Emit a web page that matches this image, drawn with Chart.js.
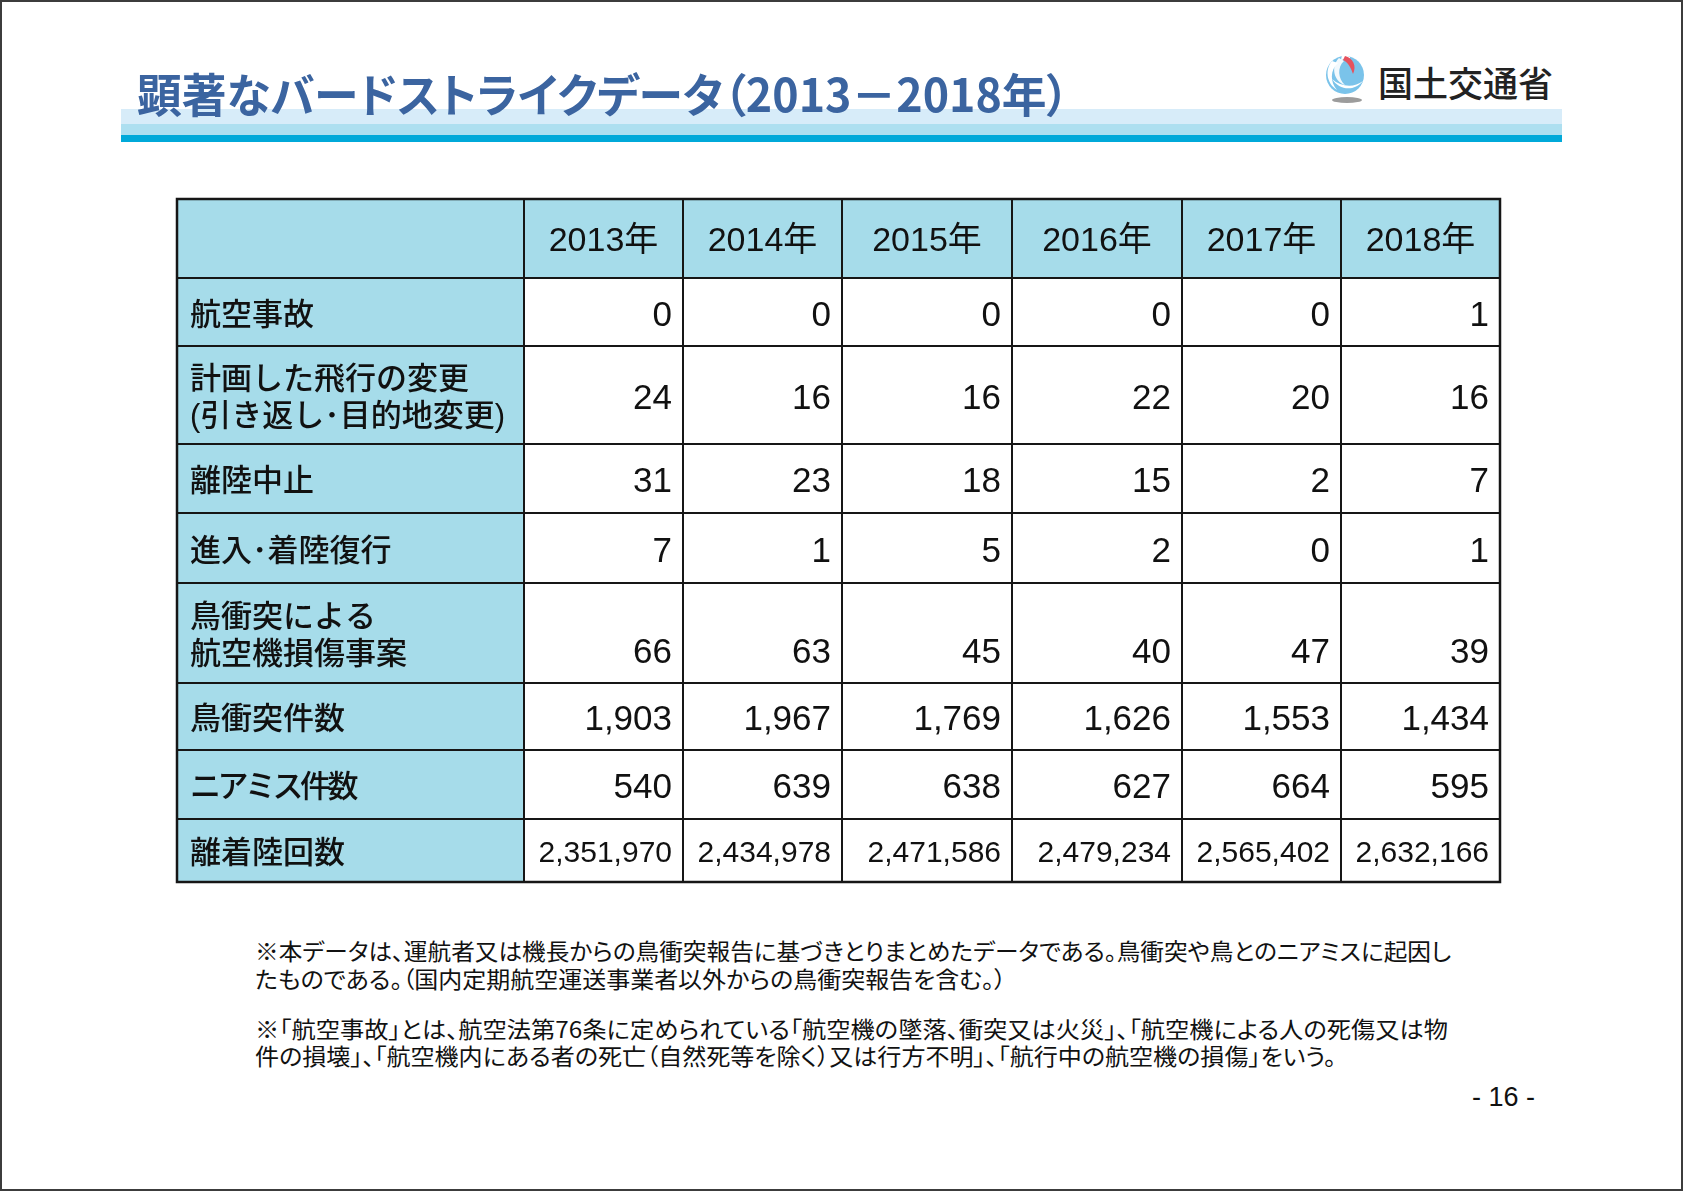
<!DOCTYPE html>
<html lang="ja">
<head>
<meta charset="utf-8">
<script src="https://cdn.jsdelivr.net/npm/chart.js@4.4.1/dist/chart.umd.min.js"></script>
<style>
html,body{margin:0;padding:0;background:#fff;}
#page{position:relative;width:1683px;height:1191px;overflow:hidden;background:#fff;}
#frame{position:absolute;left:0;top:0;width:1683px;height:1191px;box-sizing:border-box;border:2px solid #3c3c3c;z-index:10;pointer-events:none;}
.band{position:absolute;left:121px;width:1441px;}
#b1{top:109px;height:15px;background:#d7ecf9;}
#b2{top:124px;height:11px;background:#addff0;}
#b3{top:135px;height:7px;background:#00a9d9;}
#title{position:absolute;left:137px;top:64px;font-family:"Noto Sans CJK JP";font-weight:700;font-size:46px;line-height:56px;color:#3b64a0;white-space:nowrap;transform-origin:0 0;z-index:3;font-feature-settings:"palt" 1;}
#logoText{position:absolute;left:1378px;top:60px;font-family:"Noto Sans CJK JP";font-weight:500;font-size:35px;line-height:44px;color:#222;white-space:nowrap;}
#logo{position:absolute;left:1320px;top:52px;}
.note{position:absolute;left:255px;font-family:"Noto Sans CJK JP";font-size:23px;line-height:30px;color:#111;white-space:nowrap;transform-origin:0 0;font-feature-settings:"palt" 1;}
#pnum{position:absolute;left:1472px;top:1082px;font-family:"Liberation Sans Narrow","Liberation Sans";font-size:27px;line-height:30px;color:#111;white-space:pre;}
#c{position:absolute;left:0;top:0;z-index:2;}
</style>
</head>
<body>
<div id="page">
  <div class="band" id="b1"></div>
  <div class="band" id="b2"></div>
  <div class="band" id="b3"></div>
  <div id="title" data-w="932">顕著なバードストライクデータ（2013－2018年）</div>
  <svg id="logo" width="60" height="60" viewBox="0 0 60 60">
    <ellipse cx="27" cy="48" rx="15" ry="3" fill="#9c9c9c"/>
    <circle cx="25" cy="23" r="19" fill="#7ac3ea"/>
    <path d="M12,9 C5,17 6,31 17,38 C10,30 10,18 18,11 Z" fill="#fff"/>
    <path d="M19,6 C11,14 13,29 25,33 C18,27 17,15 24,9 Z" fill="#fff" opacity="0.9"/>
    <path d="M12,27 C19,38 34,40 43,29 C34,36 21,35 12,27 Z" fill="#fff"/>
    <path d="M22,3 C25,3 28,4 30,5 L30,8 C27,7 24,7 21,8 Z" fill="#fff"/>
    <path d="M25,4 C33,6 37,14 33,22 C31,16 28,10 23,8 Z" fill="#e5525e"/>
  </svg>
  <div id="logoText">国土交通省</div>
  <canvas id="c" width="1683" height="1191"></canvas>
  <div class="note" style="top:935px" data-w="1196">※本データは、運航者又は機長からの鳥衝突報告に基づきとりまとめたデータである。鳥衝突や鳥とのニアミスに起因し</div>
  <div class="note" style="top:963px" data-w="751">たものである。（国内定期航空運送事業者以外からの鳥衝突報告を含む。）</div>
  <div class="note" style="top:1013px" data-w="1193">※「航空事故」とは、航空法第76条に定められている「航空機の墜落、衝突又は火災」、「航空機による人の死傷又は物</div>
  <div class="note" style="top:1040px" data-w="1081">件の損壊」、「航空機内にある者の死亡（自然死等を除く）又は行方不明」、「航行中の航空機の損傷」をいう。</div>
  <div id="pnum">- 16 -</div>
  <div id="frame"></div>
</div>
<script>
// ---- data ----
const years = ['2013年', '2014年', '2015年', '2016年', '2017年', '2018年'];
const rowLabels = [
  ['航空事故'],
  ['計画した飛行の変更', '(引き返し･目的地変更)'],
  ['離陸中止'],
  ['進入･着陸復行'],
  ['鳥衝突による', '航空機損傷事案'],
  ['鳥衝突件数'],
  ['ニアミス件数'],
  ['離着陸回数']
];
const aviationAccidents = [0, 0, 0, 0, 0, 1];
const plannedFlightChanges = [24, 16, 16, 22, 20, 16];
const rejectedTakeoffs = [31, 23, 18, 15, 2, 7];
const goArounds = [7, 1, 5, 2, 0, 1];
const birdDamageCases = [66, 63, 45, 40, 47, 39];
const birdStrikeCounts = [1903, 1967, 1769, 1626, 1553, 1434];
const nearMissCounts = [540, 639, 638, 627, 664, 595];
const takeoffLandingCounts = [2351970, 2434978, 2471586, 2479234, 2565402, 2632166];
const seriesRows = [aviationAccidents, plannedFlightChanges, rejectedTakeoffs, goArounds,
  birdDamageCases, birdStrikeCounts, nearMissCounts, takeoffLandingCounts];

// ---- layout (table geometry, in scale units) ----
const colEdges = [177, 524, 683, 842, 1012, 1182, 1341, 1500];
const rowEdges = [199, 278, 346, 444, 513, 583, 683, 750, 819, 882];
const valueAlign = ['middle', 'middle', 'middle', 'middle', 'bottom', 'middle', 'middle', 'middle'];
const labelSpacing = [0, 0, 0, 0, 0, 0, -3.5, 0];
const headerFill = '#a6dcea';
const fmt = v => v.toLocaleString('en-US');

const tablePlugin = {
  id: 'tablePlugin',
  afterDraw(chart) {
    const xs = chart.scales.x, ys = chart.scales.y, ctx = chart.ctx;
    const X = v => xs.getPixelForValue(v), Y = v => ys.getPixelForValue(v);
    const nC = colEdges.length - 1, nR = rowEdges.length - 1;
    ctx.save();
    for (let r = 0; r < nR; r++) {
      for (let c = 0; c < nC; c++) {
        ctx.fillStyle = (r === 0 || c === 0) ? headerFill : '#ffffff';
        const x0 = X(colEdges[c]), x1 = X(colEdges[c + 1]);
        const y0 = Y(rowEdges[r]), y1 = Y(rowEdges[r + 1]);
        ctx.fillRect(x0, y0, x1 - x0, y1 - y0);
      }
    }
    ctx.strokeStyle = '#161616';
    ctx.lineWidth = 2;
    ctx.beginPath();
    for (let c = 1; c < nC; c++) { ctx.moveTo(X(colEdges[c]), Y(rowEdges[0])); ctx.lineTo(X(colEdges[c]), Y(rowEdges[nR])); }
    for (let r = 1; r < nR; r++) { ctx.moveTo(X(colEdges[0]), Y(rowEdges[r])); ctx.lineTo(X(colEdges[nC]), Y(rowEdges[r])); }
    ctx.stroke();
    ctx.lineWidth = 2.5;
    ctx.strokeRect(X(colEdges[0]), Y(rowEdges[0]), X(colEdges[nC]) - X(colEdges[0]), Y(rowEdges[nR]) - Y(rowEdges[0]));

    ctx.fillStyle = '#111';
    ctx.font = '34px "Liberation Sans", "Noto Sans CJK JP"';
    ctx.textAlign = 'center';
    ctx.textBaseline = 'alphabetic';
    const hc = (Y(rowEdges[0]) + Y(rowEdges[1])) / 2;
    years.forEach((yr, i) => {
      ctx.fillText(yr, (X(colEdges[i + 1]) + X(colEdges[i + 2])) / 2, hc + 12);
    });
    ctx.textAlign = 'left';
    ctx.textBaseline = 'middle';
    ctx.font = '500 31px "Liberation Sans", "Noto Sans CJK JP"';
    rowLabels.forEach((lines, r) => {
      const top = Y(rowEdges[r + 1]), bot = Y(rowEdges[r + 2]);
      const cy = (top + bot) / 2 + 4;
      const lh = 37;
      if ('letterSpacing' in ctx) ctx.letterSpacing = labelSpacing[r] + 'px';
      lines.forEach((t, k) => {
        const yy = cy + (k - (lines.length - 1) / 2) * lh;
        ctx.fillText(t, X(colEdges[0]) + 13, yy);
      });
      if ('letterSpacing' in ctx) ctx.letterSpacing = '0px';
    });
    ctx.textAlign = 'right';
    ctx.textBaseline = 'alphabetic';
    seriesRows.forEach((vals, r) => {
      const top = Y(rowEdges[r + 1]), bot = Y(rowEdges[r + 2]);
      const last = r === seriesRows.length - 1;
      const size = last ? 30 : 35;
      ctx.font = size + 'px "Liberation Sans"';
      let cy = (top + bot) / 2 + 1;
      if (valueAlign[r] === 'bottom') cy = (top + bot) / 2 + 17;
      vals.forEach((v, c) => {
        ctx.fillText(fmt(v), X(colEdges[c + 2]) - 11, cy + size * 0.358);
      });
    });
    ctx.restore();
  }
};

new Chart(document.getElementById('c'), {
  type: 'scatter',
  data: { datasets: [] },
  options: {
    responsive: false,
    animation: false,
    devicePixelRatio: 1,
    layout: { padding: 0 },
    plugins: { legend: { display: false }, tooltip: { enabled: false }, title: { display: false } },
    scales: {
      x: { type: 'linear', min: 0, max: 1683, display: false },
      y: { type: 'linear', min: 0, max: 1191, reverse: true, display: false }
    }
  },
  plugins: [tablePlugin]
});

function fitWidths() {
  document.querySelectorAll('[data-w]').forEach(el => {
    el.style.transform = 'none';
    const w = el.getBoundingClientRect().width;
    const target = parseFloat(el.dataset.w);
    if (w > 0) el.style.transform = 'scaleX(' + (target / w) + ')';
  });
}
fitWidths();
if (document.fonts && document.fonts.ready) document.fonts.ready.then(fitWidths);
</script>
</body>
</html>
